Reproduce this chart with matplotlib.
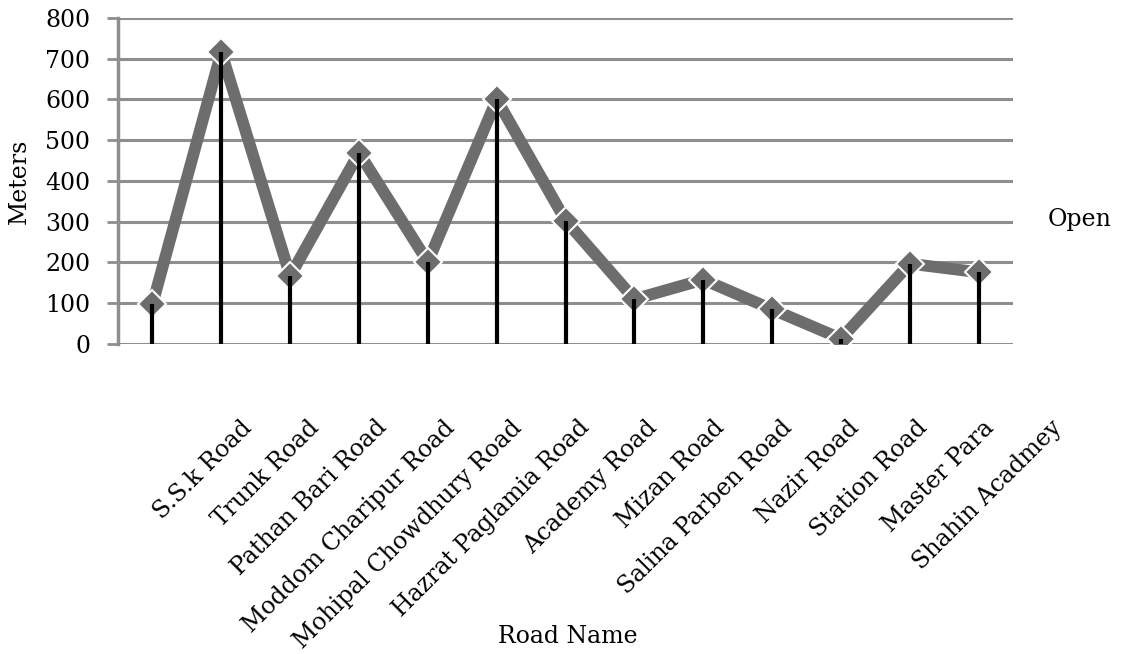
import matplotlib.pyplot as plt
from matplotlib.transforms import ScaledTranslation

roads = ["S.S.k Road", "Trunk Road", "Pathan Bari Road", "Moddom Charipur Road",
         "Mohipal Chowdhury Road", "Hazrat Paglamia Road", "Academy Road", "Mizan Road",
         "Salina Parben Road", "Nazir Road", "Station Road", "Master Para", "Shahin Acadmey"]
meters = [98, 716, 167, 469, 201, 600, 303, 110, 158, 85, 13, 197, 176]
yticks = [0, 100, 200, 300, 400, 500, 600, 700, 800]

plt.rcParams["font.family"] = "DejaVu Serif"
fs = 17

fig = plt.figure(figsize=(11.22, 6.54), dpi=100)
ax = fig.add_axes([0.1052, 0.474, 0.7978, 0.4985])

x = list(range(len(roads)))
ax.vlines(x, 0, meters, colors="black", linewidth=3, zorder=4)
ax.plot(x, meters, color="#6d6d6d", linewidth=8.5, marker="D", markersize=14,
        markerfacecolor="#6d6d6d", markeredgecolor="white", markeredgewidth=1.5,
        zorder=3)

ax.set_xlim(-0.5, 12.5)
ax.set_ylim(0, 800)
ax.set_yticks(yticks)
ax.set_yticklabels([str(v) for v in yticks], fontsize=fs)
ax.yaxis.grid(True, color="#8e8e8e", linewidth=2.2)
ax.set_axisbelow(True)
ax.tick_params(axis="y", length=8, width=2, color="#8e8e8e", pad=12)
ax.tick_params(axis="x", length=0)
ax.set_xticks([])

for s in ["top", "right", "bottom"]:
    ax.spines[s].set_visible(False)
ax.spines["left"].set_color("#8e8e8e")
ax.spines["left"].set_linewidth(2.5)

# slanted category labels, shifted like the original
shift = ScaledTranslation(0.96, -0.80, fig.dpi_scale_trans)
for xi, name in zip(x, roads):
    ax.text(xi - 0.02 * xi, 0, name, transform=ax.get_xaxis_transform() + shift,
            rotation=45, rotation_mode="anchor", ha="right", va="center",
            fontsize=fs)

ax.set_ylabel("Meters", fontsize=fs, labelpad=10)
fig.text(0.506, 0.026, "Road Name", ha="center", va="center", fontsize=fs)
fig.text(0.962, 0.664, "Open", ha="center", va="center", fontsize=fs)

fig.savefig("out.png", dpi=100)
